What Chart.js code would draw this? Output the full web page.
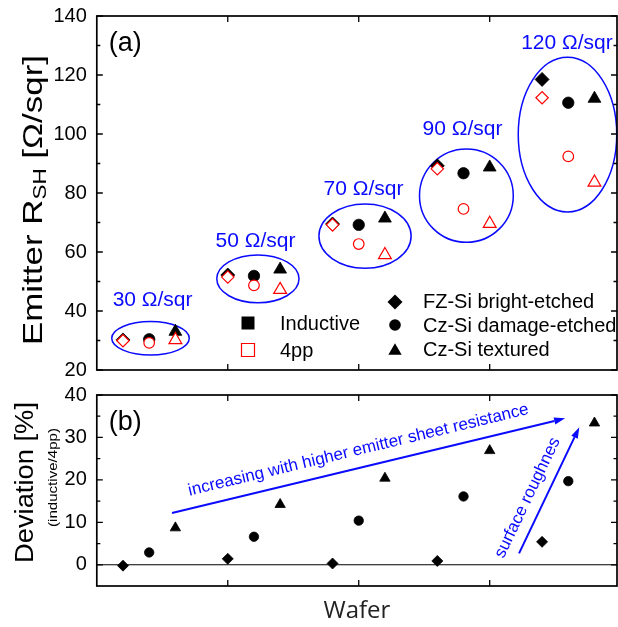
<!DOCTYPE html>
<html>
<head>
<meta charset="utf-8">
<title>Emitter sheet resistance: inductive vs 4pp</title>
<script src="https://cdn.jsdelivr.net/npm/chart.js@4.4.1/dist/chart.umd.min.js"></script>
<style>
  html, body { margin: 0; padding: 0; background: #fff; overflow: hidden; }
  #wrap { position: relative; width: 618px; height: 627px; }
  #rshChart { position: absolute; left: 0; top: 0; }
  #devChart { position: absolute; left: 0; top: 380px; }
</style>
</head>
<body>
<div id="wrap">
  <canvas id="rshChart" width="618" height="380"></canvas>
  <canvas id="devChart" width="618" height="247"></canvas>
</div>
<script>
const FONT = "'Liberation Sans', Arial, sans-serif";
const INK = '#000';
const RED = '#ff0000';
const BLUE = '#0a0aff';

// wafer index of each sample, grouped by target sheet resistance
const WAFER_FZ = [1, 5, 9, 13, 17];
const WAFER_CZ_DAMAGE = [2, 6, 10, 14, 18];
const WAFER_CZ_TEX = [3, 7, 11, 15, 19];
const X_MAX = 19.86;
const X_TICKS = [5, 10, 15];

// (a) emitter sheet resistance [Ohm/sqr]
const RSH_IND_FZ = [30.2, 52.2, 69.5, 89.2, 118.5];
const RSH_4PP_FZ = [29.9, 51.5, 69.2, 88.2, 112.3];
const RSH_IND_CZ_DAMAGE = [30.4, 51.9, 69.2, 86.7, 110.6];
const RSH_4PP_CZ_DAMAGE = [29.2, 48.7, 62.7, 74.6, 92.4];
const RSH_IND_CZ_TEX = [33.0, 54.1, 71.4, 88.7, 112.0];
const RSH_4PP_CZ_TEX = [30.2, 47.2, 59.0, 69.6, 83.6];
const Y_TICKS_A = [20, 40, 60, 80, 100, 120, 140];
const Y_MINOR_A = [30, 50, 70, 90, 110, 130];

// (b) deviation inductive/4pp [%]
const DEV_FZ = [-0.2, 1.4, 0.3, 0.9, 5.4];
const DEV_CZ_DAMAGE = [2.9, 6.6, 10.4, 16.1, 19.7];
const DEV_CZ_TEX = [8.7, 14.2, 20.4, 26.9, 33.4];
const Y_TICKS_B = [0, 10, 20, 30, 40];
const Y_MINOR_B = [5, 15, 25, 35];

// target groups: rings around each group and their labels
const GROUP_LABELS = ['30 Ω/sqr', '50 Ω/sqr', '70 Ω/sqr', '90 Ω/sqr', '120 Ω/sqr'];
const GROUP_LABEL_X = [2.13, 6.06, 10.18, 13.96, 17.95];
const GROUP_LABEL_Y = [43.7, 63.7, 81.4, 101.7, 130.8];
const RING_CX = [2.05, 6.15, 10.24, 14.11, 17.97];
const RING_CY = [30.75, 50.9, 65.4, 79.1, 99.8];
const RING_RX = [1.48, 1.57, 1.76, 1.79, 1.88];
const RING_RY = [5.66, 8.1, 10.9, 15.8, 26.2];

// trend arrows in (b)
const ARROW_X0 = [2.87, 16.12];
const ARROW_Y0 = [12.2, 2.7];
const ARROW_X1 = [17.88, 18.42];
const ARROW_Y1 = [34.5, 32.4];
const ARROW_TEXT = ['increasing with higher emitter sheet resistance', 'surface roughnes'];
const ARROW_TEXT_X = [9.99, 16.45];
const ARROW_TEXT_Y = [27.0, 15.8];

function pts(xs, ys) {
    return xs.map((x, i) => ({ x: x, y: ys[i] }));
}

function marker(ctx, style, x, y, r, fill, stroke, lw) {
    ctx.save();
    ctx.beginPath();
    if (style === 'rect') {
        ctx.rect(x - r, y - r, 2 * r, 2 * r);
    } else if (style === 'rectRot') {
        ctx.moveTo(x - r, y); ctx.lineTo(x, y - r); ctx.lineTo(x + r, y); ctx.lineTo(x, y + r);
        ctx.closePath();
    } else if (style === 'circle') {
        ctx.arc(x, y, r, 0, Math.PI * 2);
    } else {
        ctx.moveTo(x, y - r);
        ctx.lineTo(x + r * Math.sin(Math.PI * 2 / 3), y + r / 2);
        ctx.lineTo(x - r * Math.sin(Math.PI * 2 / 3), y + r / 2);
        ctx.closePath();
    }
    ctx.fillStyle = fill;
    ctx.fill();
    if (lw) { ctx.strokeStyle = stroke; ctx.lineWidth = lw; ctx.stroke(); }
    ctx.restore();
}

// rotated axis title, stretched along its baseline to a given length
function verticalTitle(ctx, parts, baseX, startY, length) {
    ctx.save();
    let natural = 0;
    parts.forEach(p => {
        ctx.font = `${p.size}px ${FONT}`;
        p.w = ctx.measureText(p.text).width;
        natural += p.w;
    });
    ctx.translate(baseX, startY);
    ctx.rotate(-Math.PI / 2);
    ctx.scale(length / natural, 1);
    ctx.fillStyle = INK;
    ctx.textAlign = 'left';
    ctx.textBaseline = 'alphabetic';
    let cx = 0;
    parts.forEach(p => {
        ctx.font = `${p.size}px ${FONT}`;
        ctx.fillText(p.text, cx, p.dy || 0);
        cx += p.w;
    });
    ctx.restore();
}

// box around the plot with inward ticks on all four sides
const framePlugin = {
    id: 'frame',
    beforeDatasetsDraw(chart, args, opts) {
        if (!opts.zeroLine) return;
        const { ctx, chartArea: a, scales: { y } } = chart;
        const p = y.getPixelForValue(0);
        ctx.save();
        ctx.strokeStyle = INK;
        ctx.lineWidth = 1.1;
        ctx.beginPath();
        ctx.moveTo(a.left, p); ctx.lineTo(a.right, p);
        ctx.stroke();
        ctx.restore();
    },
    afterDatasetsDraw(chart, args, opts) {
        const { ctx, chartArea: a, scales: { x, y } } = chart;
        ctx.save();
        ctx.strokeStyle = INK;
        ctx.lineWidth = 1.7;
        ctx.strokeRect(a.left, a.top, a.right - a.left, a.bottom - a.top);
        ctx.lineWidth = 1.3;
        ctx.beginPath();
        const yTicks = (vals, len) => vals.forEach(v => {
            const p = y.getPixelForValue(v);
            ctx.moveTo(a.left, p); ctx.lineTo(a.left + len, p);
            ctx.moveTo(a.right, p); ctx.lineTo(a.right - len, p);
        });
        yTicks(opts.major, 6);
        yTicks(opts.minor, 3.5);
        X_TICKS.forEach(v => {
            const p = x.getPixelForValue(v);
            ctx.moveTo(p, a.bottom); ctx.lineTo(p, a.bottom - 6);
            ctx.moveTo(p, a.top); ctx.lineTo(p, a.top + 6);
        });
        ctx.stroke();
        ctx.restore();
    }
};

function yAxis(min, max, ticks) {
    return {
        min: min,
        max: max,
        afterBuildTicks: s => { s.ticks = ticks.map(v => ({ value: v })); },
        afterFit: s => { s.width = 96.8; s.paddingTop = 0; s.paddingBottom = 0; },
        grid: { display: false, drawTicks: false },
        border: { display: false },
        ticks: { color: INK, padding: 10, font: { family: FONT, size: 20 } }
    };
}

function blackSet(data, style, r) {
    return {
        data: data, pointStyle: style, pointRadius: r, pointHoverRadius: r,
        pointBackgroundColor: INK, pointBorderColor: INK, pointBorderWidth: 0.8
    };
}

function redSet(data, style, r) {
    return {
        data: data, pointStyle: style, pointRadius: r, pointHoverRadius: r,
        pointBackgroundColor: '#fff', pointBorderColor: RED, pointBorderWidth: 1.2
    };
}

// ---- (a) sheet resistance ----
const rshNotes = {
    id: 'rshNotes',
    beforeDatasetsDraw(chart) {
        const { ctx, scales: { x, y } } = chart;
        ctx.save();
        ctx.strokeStyle = BLUE;
        ctx.lineWidth = 1.5;
        RING_CX.forEach((cx, i) => {
            const px = x.getPixelForValue(cx);
            const py = y.getPixelForValue(RING_CY[i]);
            const rx = x.getPixelForValue(cx + RING_RX[i]) - px;
            const ry = py - y.getPixelForValue(RING_CY[i] + RING_RY[i]);
            ctx.beginPath();
            ctx.ellipse(px, py, rx, ry, 0, 0, Math.PI * 2);
            ctx.stroke();
        });
        ctx.restore();
    },
    afterDraw(chart) {
        const { ctx, chartArea: a, scales: { x, y } } = chart;
        ctx.save();
        ctx.fillStyle = BLUE;
        ctx.font = `21px ${FONT}`;
        ctx.textAlign = 'center';
        ctx.textBaseline = 'middle';
        GROUP_LABELS.forEach((t, i) => {
            ctx.fillText(t, x.getPixelForValue(GROUP_LABEL_X[i]), y.getPixelForValue(GROUP_LABEL_Y[i]));
        });

        ctx.fillStyle = INK;
        ctx.textAlign = 'left';
        ctx.font = `27px ${FONT}`;
        ctx.fillText('(a)', a.left + 12, a.top + 28);

        // legend: measurement method (left), sample type (right)
        ctx.font = `20px ${FONT}`;
        marker(ctx, 'rect', 248, 323, 6.5, INK);
        marker(ctx, 'rect', 248, 350, 6.5, '#fff', RED, 1.2);
        ctx.fillText('Inductive', 280, 324);
        ctx.fillText('4pp', 280, 351);
        marker(ctx, 'rectRot', 395, 302, 7.5, INK);
        marker(ctx, 'circle', 395, 325, 5.8, INK);
        marker(ctx, 'triangle', 395, 351, 7.7, INK);
        ctx.fillText('FZ-Si bright-etched', 423, 302);
        ctx.fillText('Cz-Si damage-etched', 423, 326);
        ctx.fillText('Cz-Si textured', 423, 350);
        ctx.restore();

        verticalTitle(ctx, [
            { text: 'Emitter R', size: 28 },
            { text: 'SH', size: 18, dy: 4 },
            { text: ' [Ω/sqr]', size: 28 }
        ], 41.7, 345, 290);
    }
};

new Chart(document.getElementById('rshChart'), {
    type: 'scatter',
    data: {
        datasets: [
            redSet(pts(WAFER_FZ, RSH_4PP_FZ), 'rectRot', 6.2),
            redSet(pts(WAFER_CZ_DAMAGE, RSH_4PP_CZ_DAMAGE), 'circle', 5.3),
            redSet(pts(WAFER_CZ_TEX, RSH_4PP_CZ_TEX), 'triangle', 7.4),
            blackSet(pts(WAFER_FZ, RSH_IND_FZ), 'rectRot', 7),
            blackSet(pts(WAFER_CZ_DAMAGE, RSH_IND_CZ_DAMAGE), 'circle', 5.7),
            blackSet(pts(WAFER_CZ_TEX, RSH_IND_CZ_TEX), 'triangle', 7.4)
        ]
    },
    options: {
        responsive: false,
        animation: false,
        layout: { autoPadding: false, padding: { top: 16, bottom: 10, left: 0, right: 1 } },
        scales: {
            x: { type: 'linear', min: 0, max: X_MAX, display: false },
            y: yAxis(20, 140, Y_TICKS_A)
        },
        plugins: {
            legend: { display: false },
            tooltip: { enabled: false },
            frame: { major: Y_TICKS_A, minor: Y_MINOR_A, zeroLine: false }
        }
    },
    plugins: [framePlugin, rshNotes]
});

// ---- (b) deviation ----
const devNotes = {
    id: 'devNotes',
    afterDraw(chart) {
        const { ctx, chartArea: a, scales: { x, y } } = chart;
        ctx.save();
        ctx.strokeStyle = BLUE;
        ctx.fillStyle = BLUE;
        ctx.lineWidth = 2;
        let angles = [];
        ARROW_X0.forEach((x0, i) => {
            const p0x = x.getPixelForValue(x0), p0y = y.getPixelForValue(ARROW_Y0[i]);
            const p1x = x.getPixelForValue(ARROW_X1[i]), p1y = y.getPixelForValue(ARROW_Y1[i]);
            const ang = Math.atan2(p1y - p0y, p1x - p0x);
            angles.push(ang);
            const head = 11, half = 3.6;
            const bx = p1x - head * Math.cos(ang), by = p1y - head * Math.sin(ang);
            ctx.beginPath();
            ctx.moveTo(p0x, p0y); ctx.lineTo(bx, by);
            ctx.stroke();
            ctx.beginPath();
            ctx.moveTo(p1x, p1y);
            ctx.lineTo(bx + half * Math.sin(ang), by - half * Math.cos(ang));
            ctx.lineTo(bx - half * Math.sin(ang), by + half * Math.cos(ang));
            ctx.closePath();
            ctx.fill();
        });

        ctx.font = `17px ${FONT}`;
        ctx.textAlign = 'center';
        ctx.textBaseline = 'middle';
        ARROW_TEXT.forEach((t, i) => {
            ctx.save();
            ctx.translate(x.getPixelForValue(ARROW_TEXT_X[i]), y.getPixelForValue(ARROW_TEXT_Y[i]));
            ctx.rotate(angles[i]);
            ctx.fillText(t, 0, 0);
            ctx.restore();
        });

        ctx.fillStyle = INK;
        ctx.textAlign = 'left';
        ctx.font = `27px ${FONT}`;
        ctx.fillText('(b)', a.left + 12, a.top + 28);
        ctx.restore();

        verticalTitle(ctx, [{ text: 'Deviation [%]', size: 25 }], 33.3, 183, 161);
        verticalTitle(ctx, [{ text: '(inductive/4pp)', size: 12.5 }], 57.4, 147, 99);
    }
};

new Chart(document.getElementById('devChart'), {
    type: 'scatter',
    data: {
        datasets: [
            blackSet(pts(WAFER_FZ, DEV_FZ), 'rectRot', 5.5),
            blackSet(pts(WAFER_CZ_DAMAGE, DEV_CZ_DAMAGE), 'circle', 4.7),
            blackSet(pts(WAFER_CZ_TEX, DEV_CZ_TEX), 'triangle', 6)
        ]
    },
    options: {
        responsive: false,
        animation: false,
        layout: { autoPadding: false, padding: { top: 15, bottom: 0, left: 0, right: 1 } },
        scales: {
            x: {
                type: 'linear', min: 0, max: X_MAX,
                afterFit: s => { s.height = 41; s.paddingLeft = 0; s.paddingRight = 0; },
                grid: { display: false, drawTicks: false },
                border: { display: false },
                ticks: { display: false },
                title: {
                    display: true, text: 'Wafer', color: '#222',
                    font: { family: "'Open Sans', sans-serif", size: 24 },
                    padding: { top: 0, bottom: 1.6 }
                }
            },
            y: yAxis(-5, 40, Y_TICKS_B)
        },
        plugins: {
            legend: { display: false },
            tooltip: { enabled: false },
            frame: { major: Y_TICKS_B, minor: Y_MINOR_B, zeroLine: true }
        }
    },
    plugins: [framePlugin, devNotes]
});
</script>
</body>
</html>
